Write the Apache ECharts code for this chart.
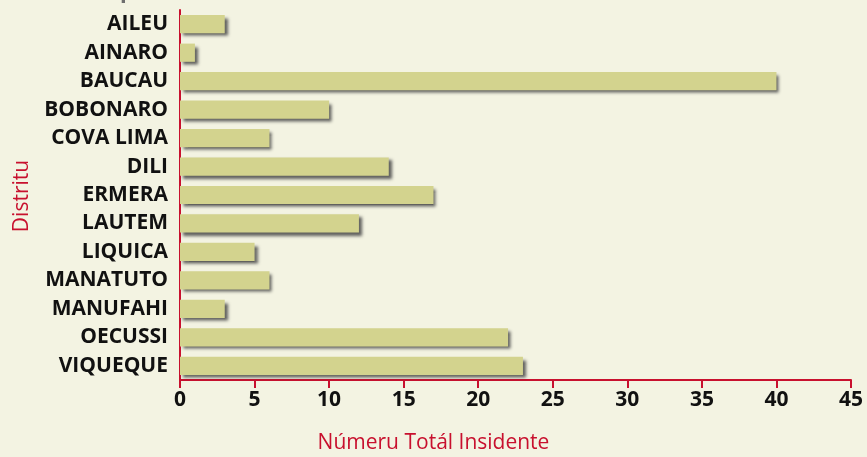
<!DOCTYPE html>
<html>
<head>
<meta charset="utf-8">
<script src="https://cdn.jsdelivr.net/npm/echarts@6/dist/echarts.min.js"></script>
<style>
html,body{margin:0;padding:0;background:#F3F3E2;}
#c{width:867px;height:457px;}
</style>
</head>
<body>
<div id="c"></div>
<script>
const categories = ['AILEU','AINARO','BAUCAU','BOBONARO','COVA LIMA','DILI','ERMERA','LAUTEM','LIQUICA','MANATUTO','MANUFAHI','OECUSSI','VIQUEQUE'];
const values = [3,1,40,10,6,14,17,12,5,6,3,22,23];
const xTicks = [0,5,10,15,20,25,30,35,40,45];

const chart = echarts.init(document.getElementById('c'));
const red = '#C8102E';
chart.setOption({
  backgroundColor: '#F3F3E2',
  animation: false,
  grid: {left: 180, right: 16, top: 10, bottom: 77, containLabel: false},
  xAxis: {
    type: 'value', min: 0, max: 45, interval: 5,
    axisLine: {show: true, lineStyle: {color: red, width: 2}},
    axisTick: {show: true, length: 8, lineStyle: {color: red, width: 2}},
    splitLine: {show: false},
    axisLabel: {color: '#111', fontFamily: 'Open Sans', fontWeight: 'bold', fontSize: 21, margin: 10,
      formatter: v => xTicks.includes(v) ? String(v) : ''}
  },
  yAxis: {
    type: 'category', data: categories, inverse: true,
    axisLine: {show: true, lineStyle: {color: red, width: 2}},
    axisTick: {show: false},
    axisLabel: {color: '#111', fontFamily: 'Open Sans', fontWeight: 'bold', fontSize: 21, margin: 12}
  },
  graphic: [
    {type: 'text', left: 'center', top: 433, style: {text: 'Númeru Totál Insidente', fill: red, font: '21px "Open Sans"'}},
    {type: 'text', x: 22, y: 196, rotation: Math.PI/2, style: {text: 'Distritu', fill: red, font: '21px "Open Sans"', align: 'center', verticalAlign: 'middle'}},
    {type: 'text', x: 120, y: 3, style: {text: 'p', fill: '#6E6E6E', font: 'bold 22px "Open Sans"', verticalAlign: 'bottom'}}
  ],
  series: [{
    type: 'bar', data: values, barCategoryGap: '36%',
    itemStyle: {color: '#D3D38E', shadowColor: 'rgba(70,70,70,0.85)', shadowBlur: 3, shadowOffsetX: 3, shadowOffsetY: 3}
  }]
});
</script>
</body>
</html>
